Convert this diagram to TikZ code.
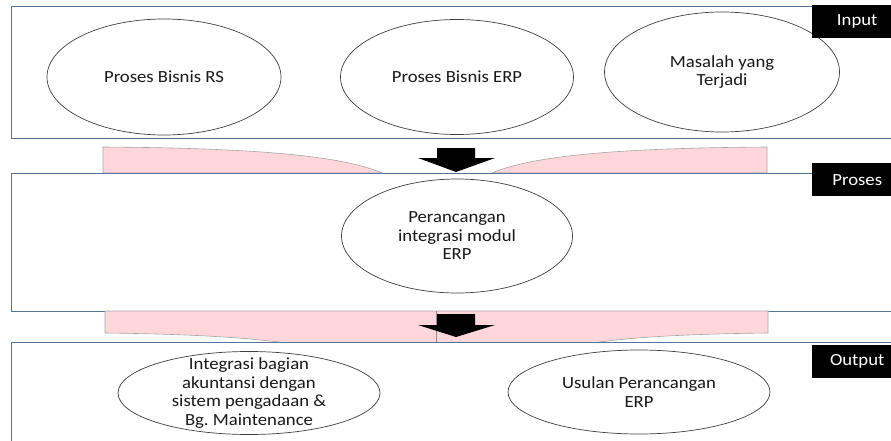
\documentclass[tikz,border=0pt]{standalone}
\usepackage{fontspec}
\setmainfont{Carlito}[FakeStretch=1.1]
\usetikzlibrary{shapes.geometric}

\definecolor{boxline}{RGB}{84,116,156}
\definecolor{ribbon}{RGB}{255,215,218}

\tikzset{
  stage/.style={draw=boxline, line width=0.8pt, fill=white},
  bubble/.style={ellipse, draw=black!75, line width=0.7pt, fill=white, inner sep=0pt, align=center, text=black!90},
  words/.style={align=center, text=black!90, inner sep=0pt},
  tag/.style={fill=black, text=white, anchor=north west, minimum width=90pt, minimum height=33pt, inner sep=0pt},
  band/.style={fill=ribbon, draw=black!35, line width=0.6pt},
}

\begin{document}
\begin{tikzpicture}[x=1pt,y=-1pt,font=\fontsize{17}{18.5}\selectfont]
    \useasboundingbox (0,0) rectangle (891,441);
    \clip (0,0) rectangle (891,441);

    % input
    \draw[stage] (11,6) rectangle (905,138);
    \node[bubble, minimum width=234pt, minimum height=116pt] (bisnisrs) at (164,77) {Proses Bisnis RS};
    \node[bubble, minimum width=233pt, minimum height=115pt] (bisniserp) at (457,77) {Proses Bisnis ERP};
    \node[bubble, minimum width=235pt, minimum height=120pt] (masalah) at (722,72) {Masalah yang\\Terjadi};

    \draw[band] (103,173) -- (103,147) .. controls (250,148) and (340,155) .. (382,173) -- cycle;
    \draw[band] (492,173) .. controls (534,155) and (624,148) .. (767,147) -- (767,173) -- cycle;
    \fill (437,148) -- (475,148) -- (475,158) -- (495,158) -- (456,172) -- (418,158) -- (437,158) -- cycle;

    % proses
    \draw[stage] (11,173) rectangle (905,311);
    \node[bubble, minimum width=231pt, minimum height=114pt] (rancang) at (457,236) {Perancangan\\integrasi modul\\ERP};

    \draw[band] (105,311) -- (768,311) -- (768,333) .. controls (680,334) and (600,338) .. (560,350)
        -- (320,350) .. controls (280,338) and (190,334) .. (105,333) -- cycle;
    \draw[black!45, line width=0.6pt] (436,311) -- (436,342);
    \fill (437,314) -- (475,314) -- (475,325) -- (495,325) -- (456,337) -- (418,325) -- (437,325) -- cycle;

    % output
    \draw[stage] (11,342) rectangle (905,450);
    \node[bubble, minimum width=262pt, minimum height=83pt] (integrasi) at (249,393) {};
    \node[words] (integrasitext) at (integrasi) {Integrasi bagian\\akuntansi dengan\\sistem pengadaan \&\\Bg.\ Maintenance};
    \node[bubble, minimum width=262pt, minimum height=84pt] (usulan) at (639,392) {Usulan Perancangan\\ERP};

    \node[tag] (input) at (812,5) {Input};
    \node[tag] (proses) at (812,163) {Proses};
    \node[tag] (output) at (812,345) {Output};
\end{tikzpicture}
\end{document}
